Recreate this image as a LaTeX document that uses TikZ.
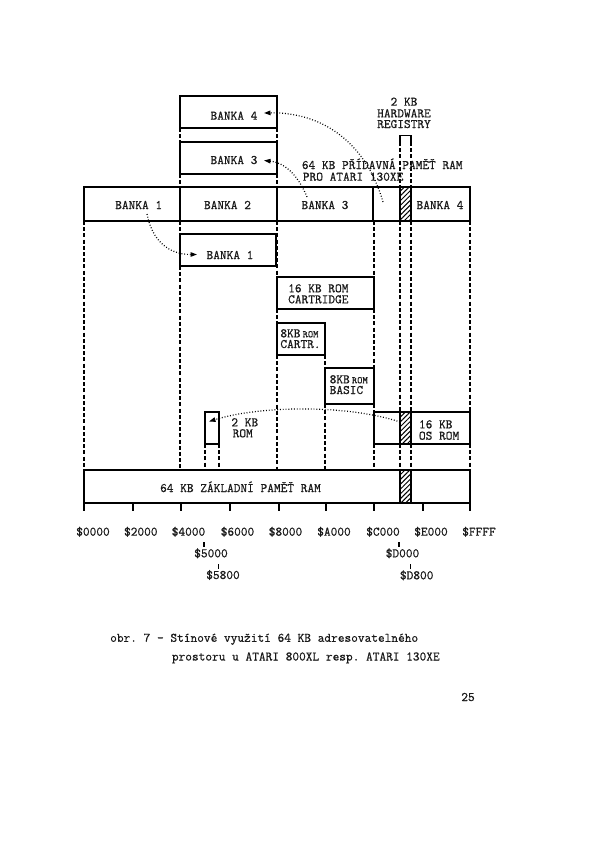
\documentclass[tikz,border=0pt]{standalone}
\usepackage{fontspec}
\setmonofont{Latin Modern Mono}[BoldFont={Latin Modern Mono},BoldFeatures={FakeBold=0.6}]
\usetikzlibrary{patterns.meta,arrows.meta}
\newcommand{\dol}{\char36\relax}
\begin{document}
\begin{tikzpicture}[x=1pt,y=-1pt,
  tw/.style={font=\fontsize{13}{13}\selectfont\ttfamily\bfseries, inner sep=0pt, text=black!90, text height=8pt, text depth=1pt},
  membox/.style={draw, line width=2.6pt, rectangle, inner sep=0pt, outer sep=0pt, anchor=north west},
  hatchbox/.style={membox, line width=1.8pt, pattern={Lines[angle=45,distance=3.4pt,line width=1pt]}},
  guide/.style={line width=1.2pt, dash pattern=on 4pt off 2.2pt},
  tickmark/.style={line width=1.2pt},
  dotarrow/.style={line width=1.2pt, dash pattern=on 0.9pt off 1.9pt, -{Triangle[length=6.5pt,width=4.5pt]}},
]
\fill[white] (0,0) rectangle (600,851);
\useasboundingbox (0,0) rectangle (600,851);

% ---- bank boxes (130XE extra RAM)
\node[membox, minimum width=97pt, minimum height=32pt] (b4) at (180,96) {};
\node[membox, minimum width=97pt, minimum height=32pt] (b3) at (180,142) {};
% ---- main bank bar
\node[membox, minimum width=96pt, minimum height=34pt] (seg1) at (84,187) {};
\node[membox, minimum width=97pt, minimum height=34pt] (seg2) at (180,187) {};
\node[membox, minimum width=96pt, minimum height=34pt] (seg3) at (277,187) {};
\node[membox, minimum width=27pt, minimum height=34pt] (seg4) at (373,187) {};
\node[hatchbox, minimum width=11pt, minimum height=34pt] (segh) at (400,187) {};
\node[membox, minimum width=59pt, minimum height=34pt] (seg5) at (411,187) {};
% ---- lower boxes
\node[membox, minimum width=96pt, minimum height=32pt] (b1) at (180,234) {};
\node[membox, minimum width=97pt, minimum height=32pt] (cart16) at (277,277) {};
\node[membox, minimum width=48pt, minimum height=32pt] (cart8) at (277,323) {};
\node[membox, minimum width=49pt, minimum height=36pt] (basic) at (325,368) {};
\node[membox, minimum width=14pt, minimum height=32pt] (rom2) at (205,412) {};
\node[membox, minimum width=96pt, minimum height=32pt] (os) at (374,412) {};
\node[hatchbox, minimum width=11pt, minimum height=32pt] (osh) at (400,412) {};
\node[membox, minimum width=386pt, minimum height=33pt] (base) at (84,470) {};
\node[hatchbox, minimum width=11pt, minimum height=33pt] (baseh) at (400,470) {};

% ---- hardware registers bracket
\coordinate (hwl) at (400,142);
\coordinate (hwr) at (411,142);
\draw[line width=1.5pt] (hwl) -- ++(0,-6.5) -| (hwr);

% ---- dashed guides
\draw[guide] (seg1.south west) -- (base.north west);
\draw[guide] (b4.south west) -- (b3.north west);
\draw[guide] (b3.south west) -- (seg2.north west);
\draw[guide] (seg2.south west) -- (b1.north west);
\draw[guide] (b1.south west) -- (b1.south west |- base.north);
\draw[guide] (b4.south east) -- (b3.north east);
\draw[guide] (b3.south east) -- (seg3.north west);
\draw[guide] (seg3.south west) -- (cart16.north west);
\draw[guide] (cart16.south west) -- (cart8.north west);
\draw[guide] (cart8.south west) -- (cart8.south west |- base.north);
\draw[guide] (cart8.south east) -- (basic.north west);
\draw[guide] (basic.south west) -- (basic.south west |- base.north);
\draw[guide] (cart16.north east |- seg4.south) -- (cart16.north east);
\draw[guide] (cart16.south east) -- (basic.north east);
\draw[guide] (basic.south east) -- (os.north west);
\draw[guide] (os.south west) -- (os.south west |- base.north);
\draw[guide] (hwl) -- (segh.north west);
\draw[guide] (hwr) -- (segh.north east);
\draw[guide] (segh.south west) -- (osh.north west);
\draw[guide] (segh.south east) -- (osh.north east);
\draw[guide] (osh.south west) -- (baseh.north west);
\draw[guide] (osh.south east) -- (baseh.north east);
\draw[guide] (seg5.south east) -- (os.north east);
\draw[guide] (os.south east) -- (base.north east);
\draw[guide] (rom2.south west) -- (rom2.south west |- base.north);
\draw[guide] (rom2.south east) -- (rom2.south east |- base.north);

% ---- ticks under base bar
\foreach \n/\x in {0/84,2/133,4/181,6/230,8/279,A/326,C/374,E/423,F/470}
  \coordinate (t\n) at (\x,503);
\foreach \n in {0,2,4,6,8,A,C,E,F}
  \draw[tickmark] (t\n) -- ++(0,8);

% ---- texts in boxes
\node[tw, anchor=base] (tb4) at (234,119.7) {BANKA 4};
\node[tw, anchor=base] (tb3) at (234,164) {BANKA 3};
\node[tw, anchor=base] (tbar1) at (138.7,209) {BANKA 1};
\node[tw, anchor=base] (tbar2) at (227.5,209) {BANKA 2};
\node[tw, anchor=base] (tbar3) at (325,209) {BANKA 3};
\node[tw, anchor=base] (tbar4) at (440,209) {BANKA 4};
\node[tw, anchor=base] (tb1) at (230,259) {BANKA 1};

\node[tw, anchor=base] (hw1) at (404,105.7) {2 KB};
\node[tw, anchor=base] (hw2) at (404,117.3) {HARDWARE};
\node[tw, anchor=base] (hw3) at (404,128) {REGISTRY};

\node[tw, anchor=base west] (xe1) at (301.7,169) {64 KB PŘÍDAVNÁ PAMĚŤ RAM};
\node[tw, anchor=base west] (xe2) at (302.7,180.7) {PRO ATARI 130XE};

\node[tw, anchor=base west] (c16a) at (288,292.3) {16 KB ROM};
\node[tw, anchor=base west] (c16b) at (288,303.3) {CARTRIDGE};
\node[tw, anchor=base west] (c8a) at (280.2,337.3) {8KB\,{\fontsize{10}{10}\selectfont ROM}};
\node[tw, anchor=base west] (c8b) at (280.2,348) {CARTR.};
\node[tw, anchor=base west] (bsa) at (329.5,383.3) {8KB\,{\fontsize{10}{10}\selectfont ROM}};
\node[tw, anchor=base west] (bsb) at (329.5,394) {BASIC};
\node[tw, anchor=base west] (r2a) at (231.2,426.3) {2 KB};
\node[tw, anchor=base west] (r2b) at (232.5,437.3) {ROM};
\node[tw, anchor=base west] (osa) at (418.8,428.3) {16 KB};
\node[tw, anchor=base west] (osb) at (418.8,439.7) {OS ROM};
\node[tw, anchor=base] (tbase) at (240.5,492) {64 KB ZÁKLADNÍ PAMĚŤ RAM};

% ---- address labels
\node[tw, anchor=base] (l0) at (93,535.7) {\dol 0000};
\node[tw, anchor=base] (l2) at (140.8,535.7) {\dol 2000};
\node[tw, anchor=base] (l4) at (188.5,535.7) {\dol 4000};
\node[tw, anchor=base] (l6) at (237.5,535.7) {\dol 6000};
\node[tw, anchor=base] (l8) at (285.5,535.7) {\dol 8000};
\node[tw, anchor=base] (lA) at (334,535.7) {\dol A000};
\node[tw, anchor=base] (lC) at (383,535.7) {\dol C000};
\node[tw, anchor=base] (lE) at (431,535.7) {\dol E000};
\node[tw, anchor=base] (lF) at (479,535.7) {\dol FFFF};
\node[tw, anchor=base] (l50) at (211,557.3) {\dol 5000};
\node[tw, anchor=base] (l58) at (223,579) {\dol 5800};
\node[tw, anchor=base] (lD0) at (402.5,557.3) {\dol D000};
\node[tw, anchor=base] (lD8) at (416.7,579.3) {\dol D800};
\coordinate (k50) at (204,546.5);
\coordinate (k58) at (218.3,568.5);
\coordinate (kD0) at (399,546.5);
\coordinate (kD8) at (410.7,569);
\foreach \k in {k50,k58,kD0,kD8}
  \draw[tickmark] (\k) -- ++(0,-5);

% ---- dotted arrows (bank switching)
\coordinate (a1s) at (147,214);
\coordinate (a1e) at (197,254.5);
\draw[dotarrow] (a1s) .. controls (152,240) and (168,254.5) .. (a1e);
\coordinate (a2s) at (307,197);
\coordinate (a2e) at (264,160.5);
\draw[dotarrow] (a2s) .. controls (300,180) and (288,163) .. (a2e);
\coordinate (a3s) at (383,202);
\coordinate (a3e) at (264,113);
\draw[dotarrow] (a3s) .. controls (365,140) and (320,112) .. (a3e);
\coordinate (a4s) at (400,422);
\coordinate (a4e) at (209,421.5);
\draw[dotarrow] (a4s) .. controls (350,405) and (262,405) .. (a4e);

% ---- caption and page number
\node[tw, anchor=base west] (cap1) at (110,641.8) {obr. 7 - Stínové využití 64 KB adresovatelného};
\node[tw, anchor=base west] (cap2) at (171.7,660.5) {prostoru u ATARI 800XL resp. ATARI 130XE};
\node[tw, anchor=base] (pg) at (468,701) {25};
\end{tikzpicture}
\end{document}
